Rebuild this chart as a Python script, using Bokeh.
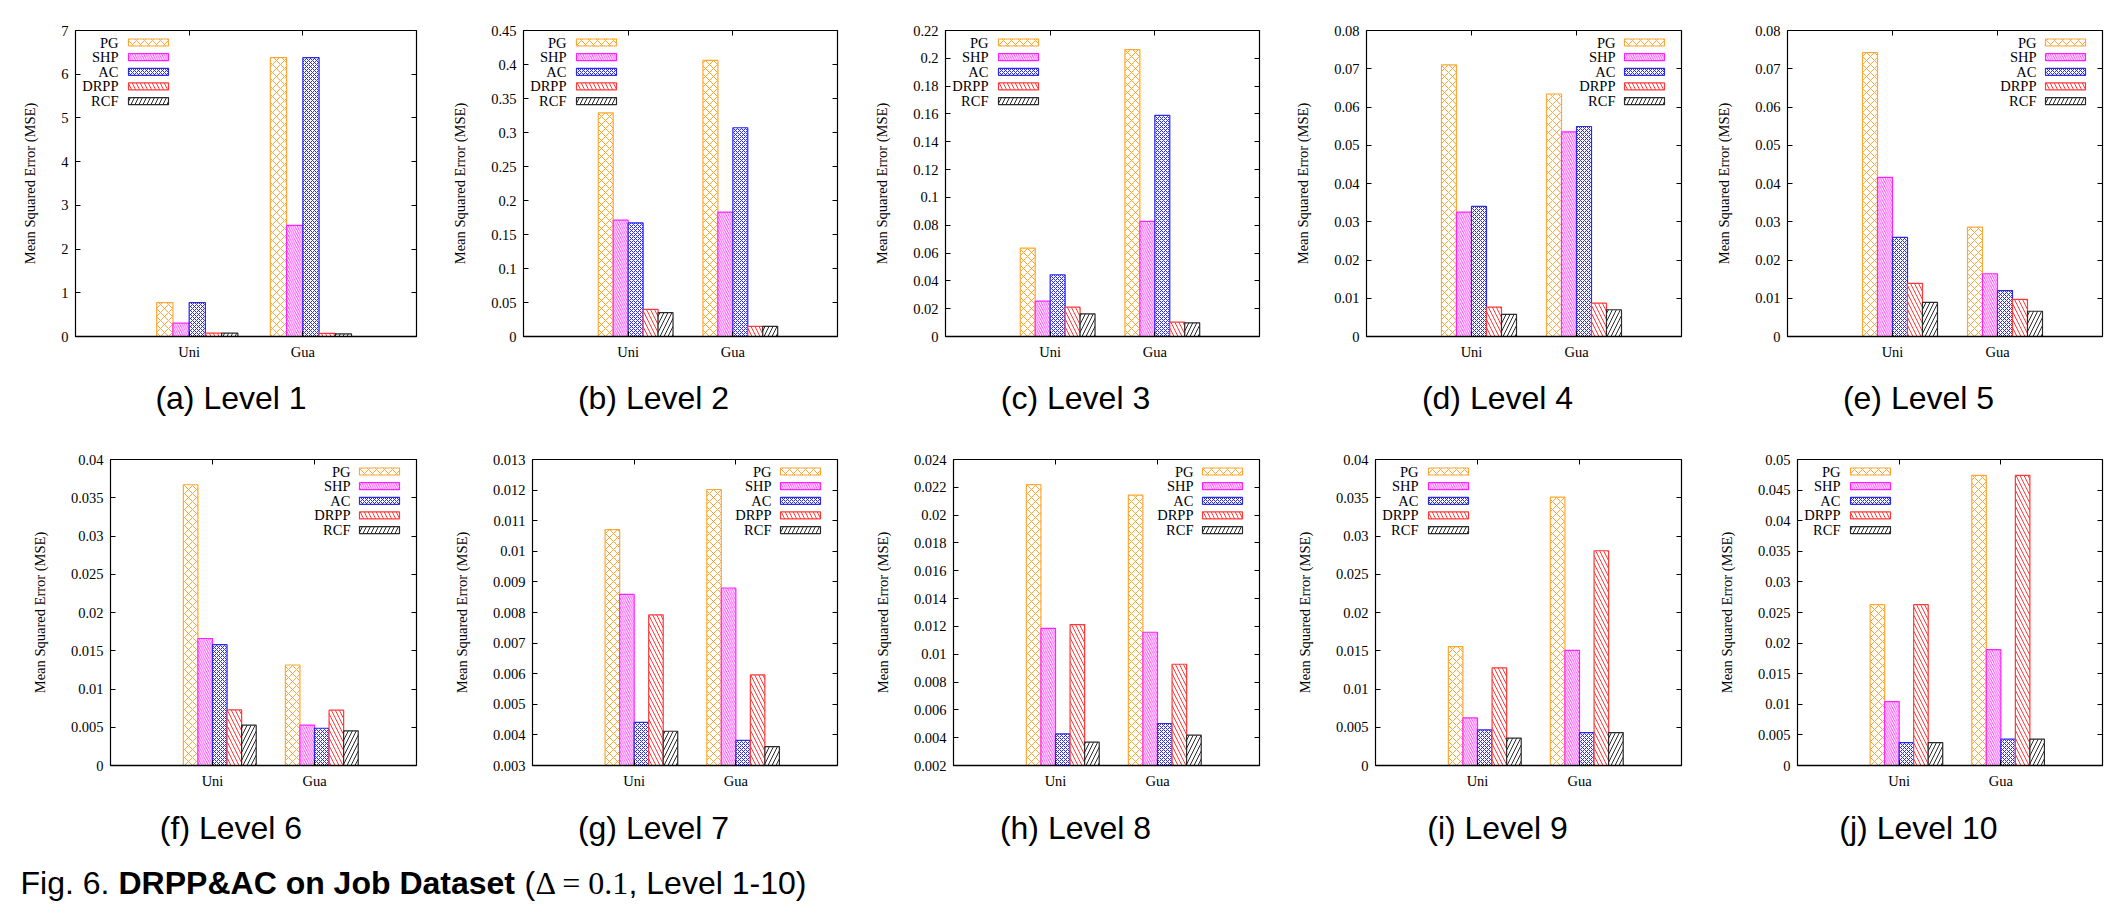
from bokeh.plotting import figure
from bokeh.models import (Range1d, FixedTicker, LinearAxis,
                          Label, ColumnDataSource, CustomJSTickFormatter)
from bokeh.transform import dodge
from bokeh.layouts import row, column
from bokeh.embed import file_html
from bokeh.resources import INLINE
from bokeh.core.properties import value

# ---------------- data ----------------
categories = ["Uni", "Gua"]
series = ["PG", "SHP", "AC", "DRPP", "RCF"]
captions = ["(a) Level 1", "(b) Level 2", "(c) Level 3", "(d) Level 4", "(e) Level 5",
            "(f) Level 6", "(g) Level 7", "(h) Level 8", "(i) Level 9", "(j) Level 10"]

pg_uni   = [0.777, 0.329, 0.0636, 0.0710, 0.0742, 0.0367, 0.01071, 0.0222, 0.01554, 0.02628]
pg_gua   = [6.38, 0.406, 0.2063, 0.0634, 0.0286, 0.01314, 0.01202, 0.02144, 0.03508, 0.04739]
shp_uni  = [0.305, 0.171, 0.0254, 0.0325, 0.0416, 0.0166, 0.00859, 0.01186, 0.00622, 0.01045]
shp_gua  = [2.54, 0.183, 0.0828, 0.0535, 0.0164, 0.00527, 0.0088, 0.01158, 0.01506, 0.01893]
ac_uni   = [0.777, 0.167, 0.0444, 0.0340, 0.0259, 0.0158, 0.00441, 0.00427, 0.00466, 0.00375]
ac_gua   = [6.38, 0.307, 0.159, 0.0549, 0.0120, 0.00487, 0.00382, 0.00502, 0.00431, 0.0043]
drpp_uni = [0.076, 0.040, 0.0211, 0.0077, 0.0139, 0.00727, 0.00792, 0.01213, 0.01275, 0.02628]
drpp_gua = [0.070, 0.015, 0.0103, 0.0087, 0.0097, 0.00723, 0.00596, 0.00928, 0.02807, 0.04739]
rcf_uni  = [0.076, 0.035, 0.0163, 0.0058, 0.0089, 0.00527, 0.00412, 0.00368, 0.00357, 0.00375]
rcf_gua  = [0.060, 0.015, 0.0098, 0.0070, 0.0066, 0.00453, 0.00362, 0.00418, 0.00431, 0.0043]

y_start = [0, 0, 0, 0, 0, 0, 0.003, 0.002, 0, 0]
y_end   = [7, 0.45, 0.22, 0.08, 0.08, 0.04, 0.013, 0.024, 0.04, 0.05]
y_step  = [1, 0.05, 0.02, 0.01, 0.01, 0.005, 0.001, 0.002, 0.005, 0.005]
legend_side = ["left", "left", "left", "right", "right", "right", "right", "right", "left", "left"]

uni_vals = [pg_uni, shp_uni, ac_uni, drpp_uni, rcf_uni]
gua_vals = [pg_gua, shp_gua, ac_gua, drpp_gua, rcf_gua]

# ---------------- styles ----------------
colors = ["#FFA733", "#FF22FF", "#2A2AF0", "#FF3838", "#2A2A2A"]
hatches = ["x", "\\", "x", "\\", "/"]
hscales = [8, 4.5, 4, 8, 8]
hweights = [1.0, 0.9, 1.0, 1.0, 1.0]

SERIF = "Liberation Serif"
SANS = "Liberation Sans"
FS = "14.5px"

col_w = [421, 422, 421, 422, 438]
mbl_top = [75, 102, 102, 102, 101]
mbr_top = [5, 6, 5, 5, 22]
mbl_bot = [110, 111, 110, 111, 111]
mbr_bot = [5, 6, 5, 5, 22]
cap_x = [230.5, 653, 1075, 1497, 1918]
FH = 306
H = 370
TOP = 30
STRIP = 59
cat_pos = list(range(len(categories)))


def make_panel(i, w, mbl, mbr):
    fw = w - mbl - mbr
    p = figure(width=w, height=H,
               x_range=Range1d(-1, len(categories)),
               y_range=Range1d(y_start[i], y_end[i]),
               output_backend="svg", toolbar_location=None,
               min_border_left=mbl, min_border_right=mbr,
               min_border_top=TOP, min_border_bottom=H - TOP - FH)
    p.outline_line_color = "black"
    p.outline_line_width = 1.2
    p.xgrid.visible = False
    p.ygrid.visible = False
    p.background_fill_color = "white"
    p.border_fill_color = "white"

    n = int(round((y_end[i] - y_start[i]) / y_step[i]))
    ticks = [round(y_start[i] + k * y_step[i], 8) for k in range(n + 1)]
    fmt = CustomJSTickFormatter(code="return String(Number(tick.toFixed(6)));")

    ya = p.yaxis[0]
    ya.ticker = FixedTicker(ticks=ticks)
    ya.formatter = fmt
    ya.major_tick_in = 5
    ya.major_tick_out = 0
    ya.minor_tick_line_color = None
    ya.axis_line_color = None
    ya.major_tick_line_color = "black"
    ya.major_label_text_font = SERIF
    ya.major_label_text_font_size = FS
    ya.major_label_text_color = "black"
    ya.major_label_standoff = 7
    ya.axis_label = "Mean Squared Error (MSE)"
    ya.axis_label_text_font = SERIF
    ya.axis_label_text_font_size = FS
    ya.axis_label_text_font_style = "normal"
    ya.axis_label_text_color = "black"
    ya.axis_label_standoff = 20

    xa = p.xaxis[0]
    xa.ticker = FixedTicker(ticks=cat_pos)
    xa.formatter = CustomJSTickFormatter(args=dict(cats=categories),
                                         code="return cats[Math.round(tick)] || '';")
    xa.major_tick_in = 5
    xa.major_tick_out = 0
    xa.minor_tick_line_color = None
    xa.axis_line_color = "black"
    xa.axis_line_width = 1.6
    xa.major_tick_line_color = "black"
    xa.major_label_text_font = SERIF
    xa.major_label_text_font_size = FS
    xa.major_label_text_color = "black"
    xa.major_label_standoff = 7

    ra = LinearAxis(ticker=FixedTicker(ticks=ticks),
                    formatter=CustomJSTickFormatter(code="return '';"),
                    major_label_text_font_size="0px", major_label_standoff=0,
                    major_tick_in=5, major_tick_out=0, axis_line_color=None,
                    minor_tick_line_color=None, major_tick_line_color="black")
    p.add_layout(ra, "right")
    ta = LinearAxis(ticker=FixedTicker(ticks=cat_pos),
                    formatter=CustomJSTickFormatter(code="return '';"),
                    major_label_text_font_size="0px", major_label_standoff=0,
                    major_tick_in=5, major_tick_out=0, axis_line_color=None,
                    minor_tick_line_color=None, major_tick_line_color="black")
    p.add_layout(ta, "above")

    w_bar = 1 / 7
    for j, s in enumerate(series):
        src = ColumnDataSource(dict(pos=cat_pos, val=[uni_vals[j][i], gua_vals[j][i]]))
        p.vbar(x=dodge("pos", (j - 1.5) * w_bar), top="val",
               bottom=y_start[i], width=w_bar, source=src,
               fill_color="white", line_color=colors[j], line_width=1.2,
               hatch_pattern=hatches[j], hatch_color=colors[j],
               hatch_scale=hscales[j], hatch_weight=hweights[j])

    # legend (gnuplot style: label right-aligned, then sample box)
    p.extra_x_ranges = {"px": Range1d(0, fw)}
    p.extra_y_ranges = {"px": Range1d(0, FH)}
    for j, s in enumerate(series):
        cy = FH - (12 + 14.65 * j)
        if legend_side[i] == "left":
            cx, tx = 73, 43
        else:
            cx, tx = fw - 37, fw - 66
        p.rect(x=[cx], y=[cy], width=40, height=7, x_range_name="px", y_range_name="px",
               fill_color="white", line_color=colors[j], line_width=1.2,
               hatch_pattern=hatches[j], hatch_color=colors[j],
               hatch_scale=hscales[j], hatch_weight=hweights[j])
        p.text(x=[tx], y=[cy], text=[s], x_range_name="px", y_range_name="px",
               text_align="right", text_baseline="middle",
               text_font=value(SERIF), text_font_size=FS, text_color="black")
    return p


def caption_strip(first, yc):
    s = figure(width=2124, height=STRIP, x_range=Range1d(0, 2124), y_range=Range1d(0, STRIP),
               x_axis_type=None, y_axis_type=None, output_backend="svg",
               toolbar_location=None, min_border=0)
    s.grid.visible = False
    s.outline_line_color = None
    for k in range(5):
        s.add_layout(Label(x=cap_x[k], y=yc, text=captions[first + k],
                           text_align="center", text_baseline="middle",
                           text_font=SANS, text_font_size="32px", text_color="black"))
    return s


top = [make_panel(k, col_w[k], mbl_top[k], mbr_top[k]) for k in range(5)]
bot = [make_panel(k + 5, col_w[k], mbl_bot[k], mbr_bot[k]) for k in range(5)]

capfig = figure(width=2124, height=54, x_range=Range1d(0, 2124), y_range=Range1d(0, 54),
                x_axis_type=None, y_axis_type=None, output_backend="svg",
                toolbar_location=None, min_border=0)
capfig.grid.visible = False
capfig.outline_line_color = None
parts = [
    (20, "Fig. 6.", SANS, "normal"),
    (118, "DRPP&AC on Job Dataset", SANS, "bold"),
    (524, "(", SANS, "normal"),
    (535, "\u0394 = 0.1", SERIF, "normal"),
    (628, ", Level 1-10)", SANS, "normal"),
]
for x0, t, f, st in parts:
    capfig.add_layout(Label(x=x0, y=30, text=t, text_font=f, text_font_style=st,
                            text_font_size="32px", text_baseline="middle",
                            text_align="left", text_color="black"))

layout = column(row(*top), caption_strip(0, 32), row(*bot), caption_strip(5, 31), capfig)
open("out.html", "w").write(file_html(layout, INLINE))
